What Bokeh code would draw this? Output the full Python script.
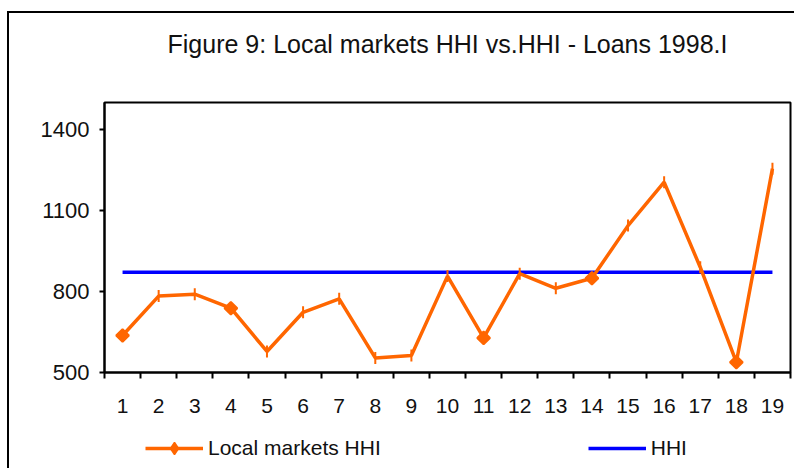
import math
from bokeh.plotting import figure
from bokeh.layouts import column
from bokeh.models import (ColumnDataSource, FixedTicker, Legend, LegendItem, Title)
from bokeh.embed import file_html
from bokeh.resources import INLINE

# ---- data ----
categories = list(range(1, 20))
local_hhi = [637, 783, 790, 738, 578, 723, 773, 554, 563, 857,
             628, 866, 812, 849, 1044, 1205, 890, 538, 1255]
hhi = [871, 871, 871, 871, 871, 871, 871, 871, 871, 871,
       871, 871, 871, 871, 871, 871, 871, 871, 871]
y_ticks = [500, 800, 1100, 1400]
title_text = "Figure 9: Local markets HHI vs.HHI - Loans 1998.I"
series_names = ["Local markets HHI", "HHI"]

# ---- styles ----
ORANGE = "#FF6600"
BLUE = "#0000FF"
FONT = "Liberation Sans"
diamond_at = {1, 4, 11, 14, 18}
mk = ["square" if c in diamond_at else "dash" for c in categories]
ang = [math.pi / 4 if c in diamond_at else math.pi / 2 for c in categories]
sz = [9 if c in diamond_at else 12 for c in categories]

src = ColumnDataSource(dict(x=categories, y=local_hhi, marker=mk, angle=ang, size=sz))

p = figure(width=787, height=417, x_range=(0.5, 19.5), y_range=(500, 1500),
           output_backend="svg", toolbar_location=None,
           min_border_left=95, min_border_right=6, min_border_top=0, min_border_bottom=58)

p.title.text = title_text
p.title.align = "center"
p.title.text_font = FONT
p.title.text_font_size = "25px"
p.title.text_font_style = "normal"
p.title.text_color = "#111111"
p.title.standoff = 29
# blank spacer between title and plot area
p.add_layout(Title(text=" ", text_font_size="12px", standoff=14), "above")

p.xgrid.visible = False
p.ygrid.visible = False
p.outline_line_color = "black"
p.outline_line_width = 2
p.outline_line_alpha = 1
p.background_fill_color = "white"
p.border_fill_color = "white"

# y axis
p.yaxis.ticker = FixedTicker(ticks=y_ticks)
p.yaxis.major_tick_out = 5
p.yaxis.major_tick_in = 0
p.yaxis.minor_tick_out = 0
p.yaxis.minor_tick_in = 0
p.yaxis.axis_line_width = 2
p.yaxis.major_tick_line_width = 2
p.yaxis.major_label_text_font = FONT
p.yaxis.major_label_text_font_size = "22px"
p.yaxis.major_label_text_color = "#111111"
p.yaxis.major_label_standoff = 10

# x axis
p.xaxis.ticker = FixedTicker(ticks=categories,
                             minor_ticks=[c - 0.5 for c in categories] + [categories[-1] + 0.5])
p.xaxis.major_tick_out = 0
p.xaxis.major_tick_in = 0
p.xaxis.minor_tick_out = 6
p.xaxis.minor_tick_in = 0
p.xaxis.minor_tick_line_color = "black"
p.xaxis.minor_tick_line_width = 2
p.xaxis.axis_line_width = 2
p.xaxis.major_label_text_font = FONT
p.xaxis.major_label_text_font_size = "21px"
p.xaxis.major_label_text_color = "#111111"
p.xaxis.major_label_standoff = 20

p.line(categories, hhi, line_color=BLUE, line_width=3.5)
p.line(x="x", y="y", source=src, line_color=ORANGE, line_width=3.5)
p.scatter(x="x", y="y", source=src, marker="marker", angle="angle", size="size",
          fill_color=ORANGE, line_color=ORANGE, line_width=2)

# ---- legend strip (same series, ranges set away from the data so only the key shows) ----
q = figure(width=787, height=40, x_range=(100, 101), y_range=(0, 1),
           x_axis_type=None, y_axis_type=None, output_backend="svg", toolbar_location=None,
           min_border_left=95, min_border_right=6, min_border_top=0, min_border_bottom=0)
q.outline_line_color = None
q.background_fill_color = "white"
q.border_fill_color = "white"
q.xgrid.visible = False
q.ygrid.visible = False
k_hhi = q.line(categories, hhi, line_color=BLUE, line_width=3.5)
k_loc = q.line(x="x", y="y", source=src, line_color=ORANGE, line_width=3.5)
k_mk = q.scatter(x="x", y="y", source=src, marker="diamond",
                 fill_color=ORANGE, line_color=ORANGE, line_width=1.5)

legend = Legend(items=[LegendItem(label=series_names[0], renderers=[k_loc, k_mk], index=0),
                       LegendItem(label=series_names[1], renderers=[k_hhi])],
                orientation="horizontal", location=(41, 7),
                glyph_width=58, glyph_height=30, label_height=30, label_width=0,
                label_standoff=5, spacing=207, padding=0, margin=0,
                border_line_alpha=0, background_fill_alpha=0,
                label_text_font=FONT, label_text_font_size="21px", label_text_color="#111111")
q.add_layout(legend, "center")

layout = column(p, q, spacing=0)
layout.styles = {"position": "relative", "top": "13px", "left": "9px",
                 "box-shadow": "-2px -2px 0 0 black"}

open("out.html", "w").write(file_html(layout, INLINE))
